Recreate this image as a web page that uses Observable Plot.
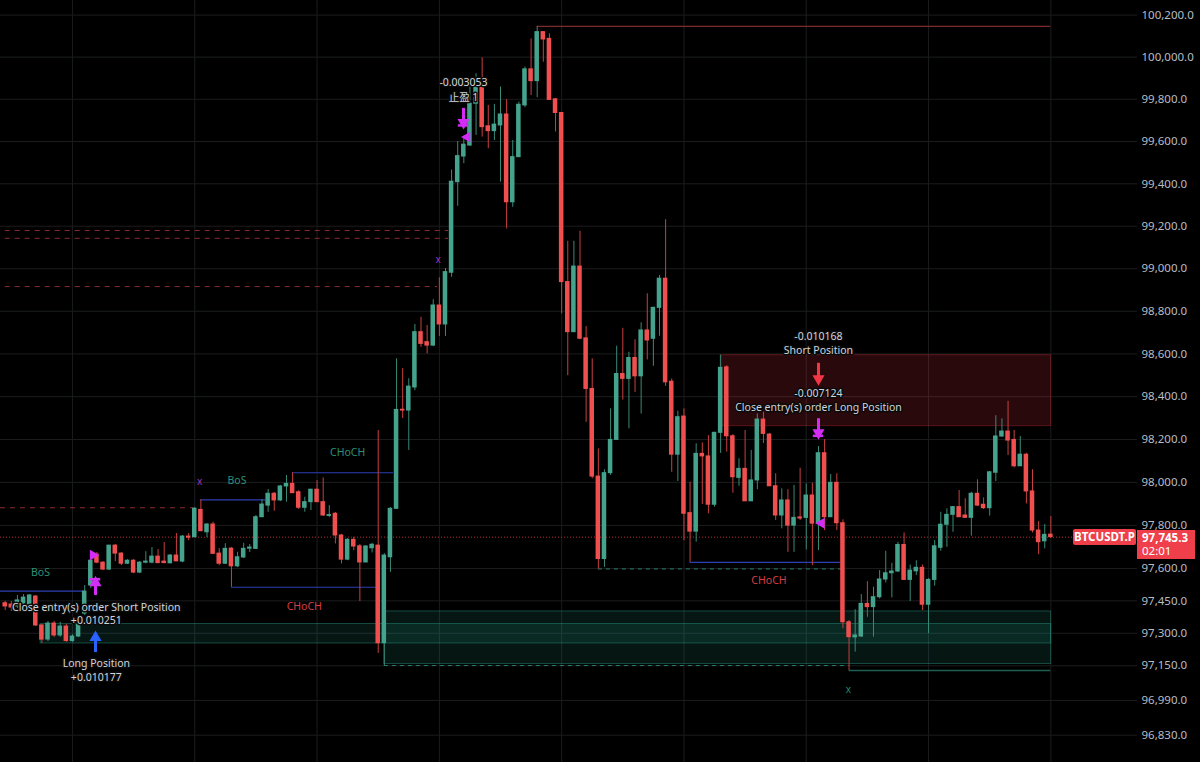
<!DOCTYPE html>
<html><head><meta charset="utf-8">
<script src="https://cdn.jsdelivr.net/npm/d3@7"></script>
<script src="https://cdn.jsdelivr.net/npm/@observablehq/plot@0.6"></script>
<style>
html,body{margin:0;padding:0;background:#000;}
#wrap{position:relative;width:1200px;height:762px;overflow:hidden;background:#000;}
#wrap svg{display:block;}
.tag{position:absolute;background:#ee3f4a;color:#fff;font-family:"Noto Sans",sans-serif;box-sizing:border-box;}
</style></head><body><div id="wrap"></div>
<script>
// ---- data (BTCUSDT.P, one bar per index) ----
const open = [97439,97433,97424,97438,97433,97470,97336,97271,97345,97290,
97331,97264,97285,97391,97521,97664,97627,97595,97706,97669,
97622,97636,97581,97627,97627,97655,97632,97624,97660,97632,
97748,97745,97872,97768,97804,97669,97622,97692,97610,97651,
97692,97691,97838,97892,97947,97916,97981,97993,97954,97882,
97908,97966,97908,97844,97854,97753,97641,97733,97703,97628,
97694,97706,97254,97652,97877,98339,98335,98443,98702,98655,
98639,98827,98738,98981,99408,99529,99581,99779,99858,99672,
99649,99676,99728,99313,99526,99771,99942,99886,100119,100087,
99800,99735,98937,98702,99010,98673,98436,98027,97644,98043,
98198,98506,98483,98581,98495,98710,98671,98816,98953,98470,
98129,98307,97857,97771,98133,98121,97896,98231,98537,98215,
98021,98063,97912,98009,98293,98223,97982,97846,97916,97799,
97837,97835,97939,97808,98136,97838,97998,97810,97351,97281,
97285,97436,97421,97467,97549,97578,97586,97709,97547,97587,
97603,97432,97547,97696,97803,97849,97885,97846,97835,97947,
97896,97880,98045,98214,98237,98198,98075,98129,97958,97776,
97726,97757];
const high = [97448,97447,97475,97479,97479,97475,97341,97355,97355,97351,
97341,97294,97382,97521,97646,97674,97631,97706,97711,97674,
97641,97641,97632,97678,97697,97688,97720,97664,97762,97753,
97762,97883,97919,97809,97815,97692,97715,97697,97675,97717,
97711,97846,97920,97967,97953,97986,98032,98045,97962,97931,
97967,98009,98021,97892,97860,97758,97739,97745,97711,97706,
97717,98242,97669,97883,98577,98531,98484,98738,98772,98733,
98854,98957,99001,99465,99600,99613,99858,99921,99997,99771,
99776,99858,99798,99605,99787,99953,100087,100146,100122,100111,
99804,99738,99129,99129,99176,98728,98577,98156,98059,98343,
98636,98720,98608,98666,98746,98882,98819,98968,99231,98483,
98332,98343,98001,98180,98184,98218,98234,98594,98545,98223,
98110,98242,98149,98319,98327,98228,98040,97970,97966,97986,
98066,97993,97996,98167,98200,98037,98040,97826,97359,97409,
97479,97539,97513,97590,97680,97624,97722,97765,97616,97636,
97616,97553,97730,97861,97877,97888,97962,97924,97954,98012,
97928,98051,98311,98296,98378,98242,98214,98135,98059,97818,
97804,97841];
const low = [97405,97401,97415,97424,97428,97331,97253,97262,97281,97281,
97258,97258,97281,97382,97507,97622,97590,97590,97632,97613,
97618,97576,97576,97622,97622,97622,97622,97622,97632,97627,
97729,97743,97771,97743,97664,97613,97618,97513,97604,97646,
97674,97688,97837,97861,97866,97911,97908,97948,97874,97861,
97869,97906,97841,97837,97714,97621,97636,97683,97447,97627,
97672,97207,97151,97582,97874,98298,98149,98428,98631,98600,
98634,98682,98682,98960,99294,99495,99577,99629,99621,99566,
99605,99408,99187,99289,99525,99760,99818,99808,99976,99797,
99645,98788,98498,98700,98667,98280,98017,97598,97605,98032,
98195,98384,98250,98420,98319,98572,98542,98683,98448,98047,
98004,97729,97628,97722,97897,97854,97885,98135,98141,97950,
97982,97911,97911,97966,98181,97981,97823,97784,97675,97675,
97823,97686,97613,97683,97776,97837,97776,97321,97128,97213,
97281,97374,97282,97459,97533,97464,97581,97544,97447,97567,
97405,97298,97518,97680,97698,97768,97837,97832,97750,97888,
97874,97843,98004,98209,98125,98068,98074,97900,97765,97664,
97691,97739];
const close = [97424,97419,97452,97465,97475,97336,97271,97345,97290,97331,
97264,97285,97339,97493,97636,97627,97595,97706,97669,97622,
97636,97581,97627,97632,97655,97625,97625,97660,97633,97748,
97743,97877,97773,97804,97668,97622,97691,97610,97652,97691,
97697,97838,97897,97947,97916,97981,97993,97950,97882,97908,
97966,97908,97846,97848,97753,97641,97733,97702,97628,97702,
97710,97254,97660,97877,98338,98335,98447,98702,98647,98639,
98827,98738,98984,99410,99531,99585,99779,99858,99668,99649,
99680,99728,99313,99526,99774,99942,99886,100119,100084,99797,
99735,98937,98702,99010,98671,98436,98027,97644,98043,98198,
98506,98483,98581,98495,98710,98663,98816,98953,98467,98129,
98304,97854,97771,98133,98121,97896,98231,98535,98215,98024,
98063,97912,98009,98293,98226,97982,97846,97916,97799,97835,
97832,97939,97808,98136,97838,97998,97810,97351,97282,97290,
97436,97421,97467,97549,97578,97586,97709,97547,97590,97603,
97432,97547,97703,97803,97849,97885,97838,97835,97947,97892,
97880,98047,98214,98237,98195,98075,98129,97958,97776,97722,
97756,97745.3];

const lastPrice = 97745.3;
const symbol = "BTCUSDT.P";
const countdown = "02:01";
const yTicks = [96830,96990,97150,97300,97450,97600,97800,98000,98200,98400,98600,98800,99000,99200,99400,99600,99800,100000,100200];
const gridBars = [11,31,51,71,91,111,131,151,171];

// horizontal levels: [startBar, endBar, price]
const oldDashedLevels = [[-0.77,31,97882],[0,72.5,99180],[0,72.5,99143],[0,70.7,98916]];
const structureLines = [[-0.77,13,97495],[32,42.6,97919],[47,63.5,98045],[37,60.8,97513],[112,136.6,97628]];
const tealDashedLevels = [[97,137,97598],[62,138,97151]];
const topLevel = [[87,171,100146]];
const bottomLevel = [[138,171,97128]];

// zones: [startBar, endBar, top, bottom]
const supplyZones = [[117,171.05,98594,98262]];
const demandZones = [[62,171.05,97401,97158],[5.8,171.05,97343,97253]];

// structure labels: [bar, price, text, kind]
const structureLabels = [[5.77,97582,"BoS","bull"],[37.9,98006,"BoS","bull"],[56.0,98138,"CHoCH","bull"],[48.9,97425,"CHoCH","bear"],[124.9,97542,"CHoCH","bear"]];
const swingMarks = [[31.8,98004,"p"],[70.8,99042,"p"],[137.9,97040,"t"]];

// strategy order texts: [bar, price, text]
const orderTexts = [
  [14.9,97419,"Close entry(s) order Short Position"],[14.9,97358,"+0.010251"],
  [14.9,97159,"Long Position"],[14.9,97096,"+0.010177"],
  [74.95,99881,"-0.003053"],[74.95,99810,"止盈 1"],
  [133,98681,"-0.010168"],[133,98615,"Short Position"],
  [133,98414,"-0.007124"],[133,98348,"Close entry(s) order Long Position"]
];
// arrows: [bar, tailPrice, tipPrice, barPrice|null, kind]
const orderArrows = [
  [14.77,97475,97534,97550,"exit"],
  [14.77,97211,97281,null,"long"],
  [74.95,99757,99690,99676,"exit"],
  [133,98556,98484,null,"short"],
  [133,98297,98231,98217,"exit"]
];
// small triangles: [bar, price, direction]
const flags = [[14.36,97662,"right"],[75.55,99621,"left"],[133.5,97810,"left"]];

// ---- build ----
const UP = "#45a38d", DOWN = "#ef4f4f";
const UPW = "#3a8a77", DOWNW = "#c8403f";
const PURPLE = "#d22cf5";
const bars = open.map((o, i) => ({i, o, h: high[i], l: low[i], c: close[i], up: close[i] >= o}));
const seg = a => a.map(([a1, a2, p]) => ({a1, a2, p}));
const zone = a => a.map(([a1, a2, t, b]) => ({a1, a2, t, b}));
const X0 = -0.7686, X1 = 185.17;
const arrowColor = k => k === "exit" ? PURPLE : k === "long" ? "#2962ff" : "#f23645";
const arrows = orderArrows.map(([i, tail, tip, bar, kind]) => ({i, tail, tip, bar, kind, up: tip > tail}));
const FONT = "'Noto Sans','Noto Sans CJK SC',sans-serif";

const chart = Plot.plot({
  width: 1200, height: 762,
  marginTop: 0, marginBottom: 0, marginLeft: 0, marginRight: 63,
  style: {background: "#000", color: "#b8bcc4", fontFamily: FONT, fontSize: "11px"},
  x: {domain: [X0, X1], axis: null},
  y: {type: "log", domain: [96704.5, 100269.5], axis: null},
  marks: [
    Plot.ruleY(yTicks, {x1: X0, x2: X1, stroke: "#1b1c1e"}),
    Plot.ruleX(gridBars, {stroke: "#1b1c1e"}),
    // zones
    Plot.rect(demandZones.map(z => z), {x1: d => d[0], x2: d => d[1], y1: d => d[2], y2: d => d[3], fill: "#2bb39a", fillOpacity: 0.12, stroke: "#2a9a84", strokeOpacity: 0.45}),
    Plot.rect(supplyZones, {x1: d => d[0], x2: d => d[1], y1: d => d[2], y2: d => d[3], fill: "#f23645", fillOpacity: 0.17, stroke: "#f23645", strokeOpacity: 0.3}),
    // levels
    Plot.ruleY(seg(oldDashedLevels), {x1: "a1", x2: "a2", y: "p", stroke: "#8c2b2e", strokeDasharray: "5,5"}),
    Plot.ruleY(seg(tealDashedLevels), {x1: "a1", x2: "a2", y: "p", stroke: "#2b7d6c", strokeDasharray: "4,4"}),
    Plot.ruleY(seg(topLevel), {x1: "a1", x2: "a2", y: "p", stroke: "#7d2c2c", strokeWidth: 1.2}),
    Plot.ruleY(seg(bottomLevel), {x1: "a1", x2: "a2", y: "p", stroke: "#1f5f52", strokeWidth: 1.5}),
    Plot.ruleY(seg(structureLines), {x1: "a1", x2: "a2", y: "p", stroke: "#2e3fb3", strokeWidth: 1.2}),
    Plot.ruleY([lastPrice], {x1: X0, x2: 174.6, stroke: "#f23645", strokeOpacity: 0.75, strokeDasharray: "1,2"}),
    // candles
    Plot.ruleX(bars, {x: "i", y1: "l", y2: "h", stroke: d => d.up ? UPW : DOWNW, strokeWidth: 1}),
    Plot.rect(bars, {x1: d => d.i - 0.37, x2: d => d.i + 0.37, y1: "o", y2: "c", fill: d => d.up ? UP : DOWN, insetTop: -0.5, insetBottom: -0.5}),
    // structure labels
    Plot.text(structureLabels, {x: d => d[0], y: d => d[1], text: d => d[2], fill: d => d[3] === "bull" ? "#2c9079" : "#d63e45", fontSize: 10.5}),
    Plot.text(swingMarks, {x: d => d[0], y: d => d[1], text: () => "x", fill: d => d[2] === "p" ? "#9b37c4" : "#1f8f74", fontSize: 10}),
    // order markers
    Plot.ruleX(arrows, {x: "i", y1: "tail", y2: d => d.tip + (d.up ? -1 : 1) * 0.0, stroke: d => arrowColor(d.kind), strokeWidth: 3}),
    Plot.dot(arrows, {x: "i", y: "tip", symbol: "triangle", rotate: d => d.up ? 0 : 180, r: 4.5, fill: d => arrowColor(d.kind), stroke: "none"}),
    Plot.ruleY(arrows.filter(d => d.bar != null), {y: "bar", x1: d => d.i - 0.85, x2: d => d.i + 0.85, stroke: PURPLE, strokeWidth: 2.5}),
    Plot.dot(flags, {x: d => d[0], y: d => d[1], symbol: "triangle", rotate: d => d[2] === "right" ? 90 : -90, r: 4, fill: PURPLE, stroke: "none"}),
    Plot.text(orderTexts, {x: d => d[0], y: d => d[1], text: d => d[2], fill: "#d1d4dc", stroke: "#0b0b0b", strokeWidth: 3, paintOrder: "stroke", fontSize: 10.5}),
    // price axis
    Plot.axisY(yTicks, {anchor: "right", tickSize: 0, tickPadding: 4, tickFormat: d3.format(",.1f"), fill: "#b8bcc4", fontSize: 11.5})
  ]
});
const wrap = document.getElementById("wrap");
wrap.appendChild(chart);

// last price tags
const yp = chart.scale("y").apply(lastPrice);
const t1 = document.createElement("div");
t1.className = "tag";
t1.textContent = symbol;
Object.assign(t1.style, {left: "1073px", top: (yp - 8) + "px", width: "63px", height: "16px", fontSize: "11.5px", fontWeight: "700", lineHeight: "16px", textAlign: "center", borderRadius: "2px"});
wrap.appendChild(t1);
const t2 = document.createElement("div");
t2.className = "tag";
t2.innerHTML = `<div style="font-weight:700">${d3.format(",.1f")(lastPrice)}</div><div>${countdown}</div>`;
Object.assign(t2.style, {left: "1137px", top: (yp - 7) + "px", width: "58px", height: "29px", fontSize: "11.5px", lineHeight: "13.5px", paddingLeft: "5px", paddingTop: "1px"});
wrap.appendChild(t2);
</script></body></html>
